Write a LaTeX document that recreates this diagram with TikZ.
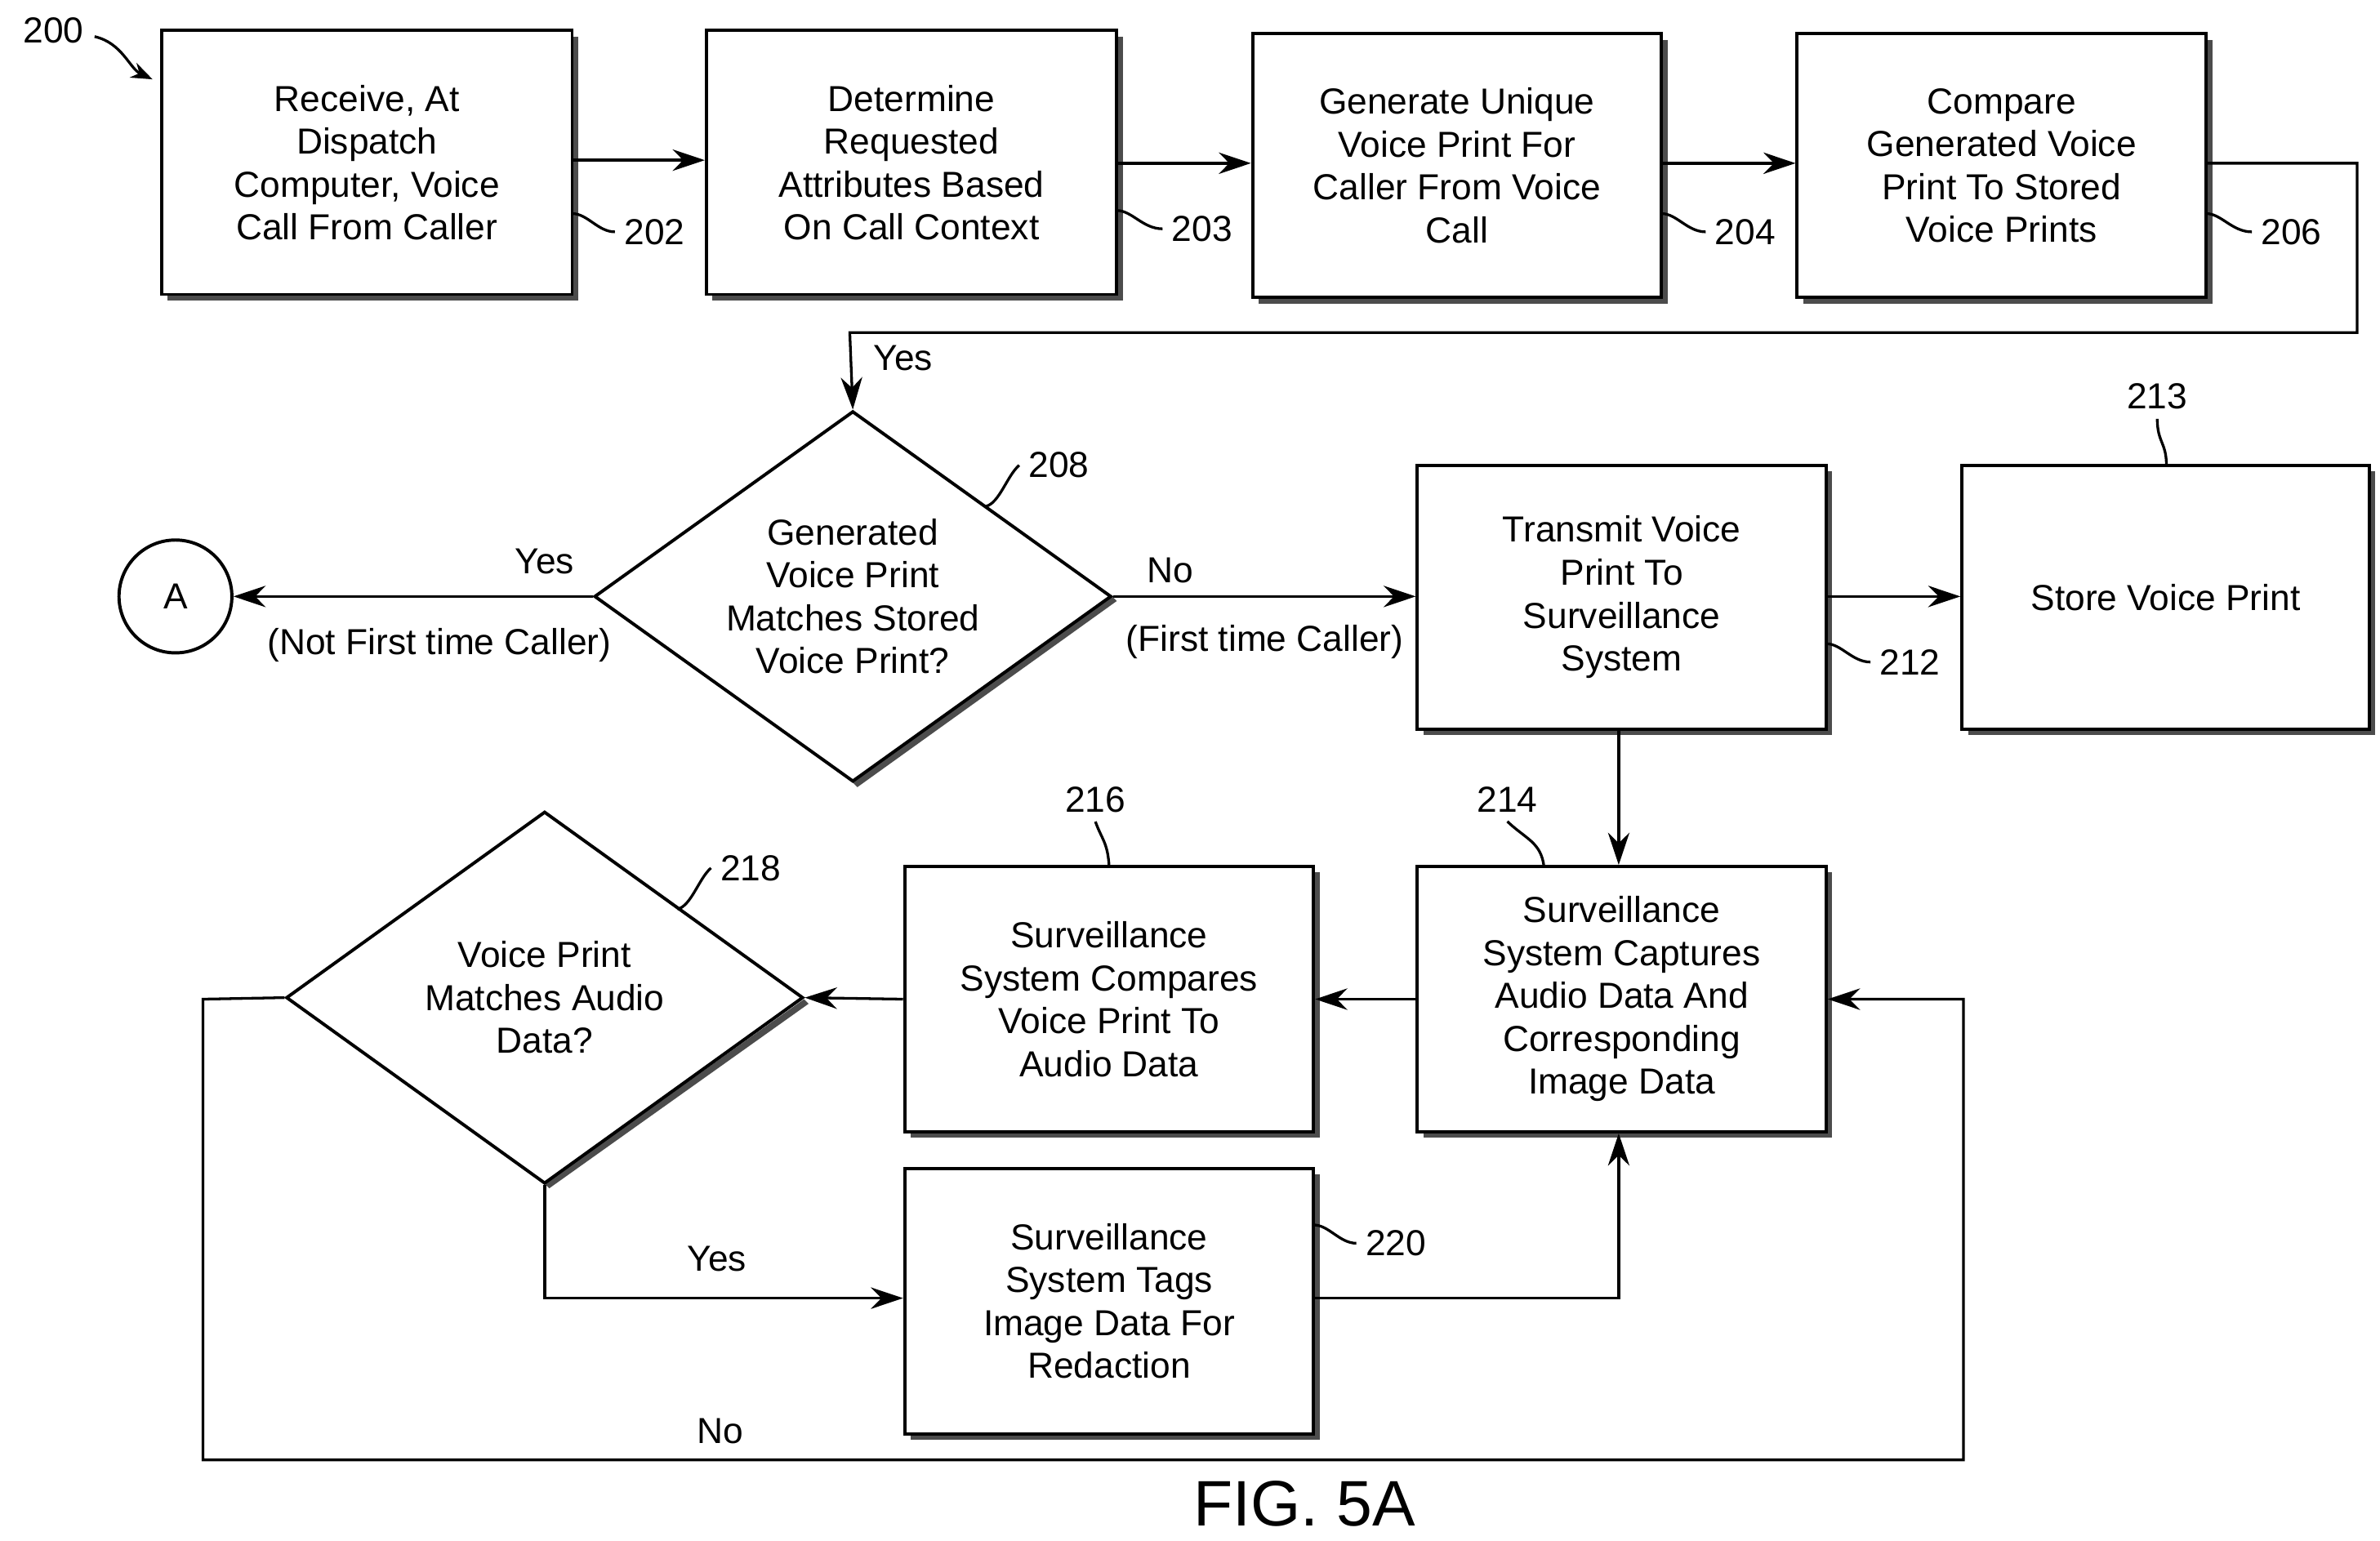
\documentclass[tikz,border=0pt]{standalone}
\usepackage{fontspec}
\setmainfont{Liberation Sans}
\usetikzlibrary{arrows.meta,shapes.geometric,decorations.pathmorphing}
\begin{document}
\begin{tikzpicture}[x=0.02cm,y=-0.02cm,
  txt/.style={font=\fontsize{13.5}{16}\selectfont,align=center},
  box/.style={draw,line width=1.2pt,fill=white,txt,inner sep=0pt},
  shadow/.style={fill=black!70},
  ln/.style={line width=1pt},
  ar/.style={ln,-{Stealth[length=12pt,width=8pt]}},
  lab/.style={font=\fontsize{13.5}{16}\selectfont},
  squig/.style={ln,decorate,decoration={snake,amplitude=1.5pt,segment length=12pt}}]
\useasboundingbox (0,0) rectangle (1560,1010);
\newcommand{\mybox}[6]{%
  \fill[shadow] (#2+4,#3+4) rectangle (#4+4,#5+4);
  \node[box,minimum width={(#4-#2)*0.02cm},minimum height={(#5-#3)*0.02cm}] (#1) at ({(#2+#4)/2},{(#3+#5)/2}) {#6};}
\mybox{b202}{106}{20}{375}{193}{Receive, At\\Dispatch\\Computer, Voice\\Call From Caller}
\mybox{b203}{463}{20}{732}{193}{Determine\\Requested\\Attributes Based\\On Call Context}
\mybox{b204}{821}{22}{1089}{195}{Generate Unique\\Voice Print For\\Caller From Voice\\Call}
\mybox{b206}{1178}{22}{1446}{195}{Compare\\Generated Voice\\Print To Stored\\Voice Prints}
\mybox{b212}{929}{305}{1197}{478}{Transmit Voice\\Print To\\Surveillance\\System}
\mybox{b213}{1286}{305}{1553}{478}{Store Voice Print}
\mybox{b214}{929}{568}{1197}{742}{Surveillance\\System Captures\\Audio Data And\\Corresponding\\Image Data}
\mybox{b216}{593}{568}{861}{742}{Surveillance\\System Compares\\Voice Print To\\Audio Data}
\mybox{b220}{593}{766}{861}{940}{Surveillance\\System Tags\\Image Data For\\Redaction}
% diamonds
\fill[shadow] (729+3,391+3) -- (559+3,513+3) -- (559,513) -- (729,391) -- cycle;
\node[draw,line width=1.2pt,diamond,fill=white,minimum width=6.78cm,minimum height=4.86cm,inner sep=0pt,txt] (d208) at (559,391) {};
\node[txt] at (559,391) {Generated\\Voice Print\\Matches Stored\\Voice Print?};
\fill[shadow] (527+3,655+3) -- (357+3,776+3) -- (357,776) -- (527,655) -- cycle;
\node[draw,line width=1.2pt,diamond,fill=white,minimum width=6.78cm,minimum height=4.88cm,inner sep=0pt] (d218) at (357,654) {};
\node[txt] at (357,654) {Voice Print\\Matches Audio\\Data?};
\node[draw,circle,line width=1.2pt,minimum size=1.48cm,txt] (A) at (115,391) {A};
% connectors
\draw[ar] (b202.east |- 0,105) -- (b203.west |- 0,105);
\draw[ar] (b203.east |- 0,107) -- (b204.west |- 0,107);
\draw[ar] (b204.east |- 0,107) -- (b206.west |- 0,107);
\draw[ar] (b206.east |- 0,107) -- (1545,107) -- (1545,218) -- (557,218) -- (d208.north);
\draw[ar] (d208.west) -- (A.east);
\draw[ar] (d208.east) -- (b212.west |- 0,391);
\draw[ar] (b212.east |- 0,391) -- (b213.west |- 0,391);
\draw[ar] (b212.south -| 1061,0) -- (b214.north -| 1061,0);
\draw[ar] (b214.west |- 0,655) -- (b216.east |- 0,655);
\draw[ar] (b216.west |- 0,655) -- (d218.east);
\draw[ar] (d218.south) -- (357,851) -- (b220.west |- 0,851);
\draw[ar] (b220.east |- 0,851) -- (1061,851) -- (b214.south -| 1061,0);
\draw[ar] (d218.west) -- (133,655) -- (133,957) -- (1287,957) -- (1287,655) -- (b214.east |- 0,655);
% labels
\node[lab] at (592,235) {Yes};
\node[lab] at (357,368) {Yes};
\node[lab] at (288,423) {(Not First time Caller)};
\node[lab] at (767,374) {No};
\node[lab] at (829,421) {(First time Caller)};
\node[lab] at (470,825) {Yes};
\node[lab] at (472,938) {No};
\node[font=\fontsize{24}{26}\selectfont] at (855,986) {FIG. 5A};
\node[lab] (n200) at (35,20) {200};
\draw[ln,-{Stealth[length=8pt]}] (62,24) .. controls (80,28) and (85,45) .. (100,52);
\node[lab,anchor=west] (n202) at (403,152) {202};
\draw[ln] (375,140) .. controls (385,140) and (392,152) .. (n202.west);
\node[lab,anchor=west] (n203) at (762,150) {203};
\draw[ln] (732,138) .. controls (742,138) and (749,150) .. (n203.west);
\node[lab,anchor=west] (n204) at (1118,152) {204};
\draw[ln] (1089,140) .. controls (1099,140) and (1106,152) .. (n204.west);
\node[lab,anchor=west] (n206) at (1476,152) {206};
\draw[ln] (1446,140) .. controls (1456,140) and (1463,152) .. (n206.west);
\node[lab,anchor=west] (n212) at (1226,434) {212};
\draw[ln] (1197,422) .. controls (1207,422) and (1214,434) .. (n212.west);
\node[lab,anchor=west] (n220) at (889,815) {220};
\draw[ln] (861,803) .. controls (871,803) and (878,815) .. (n220.west);
\node[lab] (n208) at (694,305) {208};
\draw[ln] (646,332) .. controls (655,330) and (660,312) .. (n208.west);
\node[lab] (n218) at (492,569) {218};
\draw[ln] (444,596) .. controls (453,594) and (458,576) .. (n218.west);
\node[lab] (n213) at (1414,260) {213};
\draw[ln] (n213.south) .. controls (1414,290) and (1420,290) .. (1420,305);
\node[lab] (n214) at (988,524) {214};
\draw[ln] (n214.south) .. controls (1000,550) and (1010,552) .. (1012,568);
\node[lab] (n216) at (718,524) {216};
\draw[ln] (n216.south) .. controls (722,550) and (726,552) .. (727,568);
\end{tikzpicture}
\end{document}
